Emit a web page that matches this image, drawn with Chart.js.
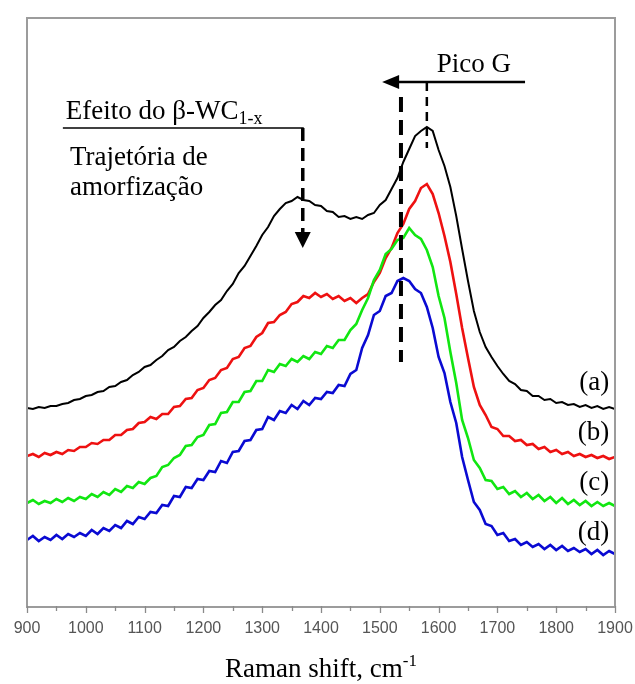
<!DOCTYPE html>
<html>
<head>
<meta charset="utf-8">
<script src="https://cdn.jsdelivr.net/npm/chart.js@4/dist/chart.umd.min.js"></script>
<style>
  html, body { margin: 0; padding: 0; background: #fff; }
  #wrap { width: 635px; height: 684px; position: relative; }
</style>
</head>
<body>
<div id="wrap"><canvas id="c" width="635" height="684"></canvas></div>
<script>
// Raman shift (cm-1), sampled every 10 cm-1
const ramanShift = [
  900, 910, 920, 930, 940, 950, 960, 970, 980, 990,
  1000, 1010, 1020, 1030, 1040, 1050, 1060, 1070, 1080, 1090,
  1100, 1110, 1120, 1130, 1140, 1150, 1160, 1170, 1180, 1190,
  1200, 1210, 1220, 1230, 1240, 1250, 1260, 1270, 1280, 1290,
  1300, 1310, 1320, 1330, 1340, 1350, 1360, 1370, 1380, 1390,
  1400, 1410, 1420, 1430, 1440, 1450, 1460, 1470, 1480, 1490,
  1500, 1510, 1520, 1530, 1540, 1550, 1560, 1570, 1580, 1590,
  1600, 1610, 1620, 1630, 1640, 1650, 1660, 1670, 1680, 1690,
  1700, 1710, 1720, 1730, 1740, 1750, 1760, 1770, 1780, 1790,
  1800, 1810, 1820, 1830, 1840, 1850, 1860, 1870, 1880, 1890,
  1900
];

// Intensities (a.u., curves offset vertically)
const spectrumA = [
  199, 198, 200, 199, 201, 201, 203, 204, 207, 208,
  211, 212, 215, 216, 220, 221, 225, 227, 232, 235,
  240, 242, 247, 251, 257, 260, 266, 270, 276, 281,
  289, 295, 302, 307, 316, 323, 334, 341, 351, 361,
  372, 380, 391, 398, 404, 406, 410, 407, 406, 402,
  401, 396, 395, 390, 391, 388, 390, 388, 392, 394,
  402, 407, 418, 429, 445, 458, 471, 476, 480, 476,
  457, 441, 420, 391, 358, 326, 296, 275, 260, 250,
  241, 233, 226, 223, 217, 216, 211, 211, 207, 208,
  204, 205, 202, 203, 200, 202, 199, 201, 198, 200,
  198
];
const spectrumB = [
  151, 153, 150, 154, 152, 155, 153, 157, 156, 160,
  160, 164, 163, 167, 167, 172, 172, 177, 178, 184,
  185, 190, 188, 193, 193, 200, 201, 208, 209, 217,
  219, 227, 229, 237, 239, 248, 250, 259, 261, 270,
  274, 284, 285, 292, 295, 303, 305, 311, 309, 314,
  310, 313, 308, 311, 306, 309, 304, 309, 313, 325,
  334, 349, 359, 374, 383, 398, 406, 419, 423, 413,
  394, 371, 345, 313, 279, 249, 220, 202, 192, 180,
  178, 171, 171, 166, 167, 162, 163, 158, 160, 155,
  157, 153, 155, 151, 153, 150, 152, 149, 151, 148,
  150
];
const spectrumC = [
  104, 107, 103, 106, 104, 108, 105, 109, 106, 110,
  108, 113, 110, 115, 112, 118, 115, 121, 119, 125,
  123, 129, 131, 140, 142, 149, 152, 161, 162, 170,
  172, 182, 183, 194, 195, 205, 205, 215, 216, 226,
  226, 237, 235, 243, 241, 248, 245, 251, 248, 255,
  253, 261, 259, 267, 267, 277, 283, 297, 309, 327,
  337, 353, 358, 367, 369, 379, 372, 368, 357, 340,
  311, 289, 255, 224, 187, 169, 147, 139, 127, 126,
  118, 120, 113, 116, 110, 114, 108, 112, 106, 110,
  104, 109, 103, 107, 102, 106, 101, 105, 101, 104,
  101
];
const spectrumD = [
  67, 71, 66, 70, 67, 72, 68, 73, 70, 74,
  71, 77, 73, 79, 76, 82, 79, 86, 83, 90,
  88, 95, 94, 102, 101, 111, 110, 120, 119, 128,
  127, 136, 135, 146, 144, 155, 156, 166, 167, 177,
  178, 190, 187, 196, 194, 202, 198, 206, 202, 209,
  208, 215, 214, 222, 221, 233, 237, 259, 272, 292,
  296, 311, 314, 326, 329, 326, 318, 314, 300, 279,
  250, 234, 205, 184, 150, 127, 105, 97, 83, 81,
  72, 74, 66, 68, 62, 65, 60, 63, 58, 62,
  57, 61, 56, 59, 55, 58, 53, 57, 52, 56,
  53
];

const seriesLabels = ['(a)', '(b)', '(c)', '(d)'];
const seriesColors = ['#000000', '#ee1111', '#11e611', '#0a0ad2'];
const xTicks = [900, 1000, 1100, 1200, 1300, 1400, 1500, 1600, 1700, 1800, 1900];

const SERIF = "'Liberation Serif','Times New Roman',serif";

function toPoints(values) {
  return values.map((v, i) => ({ x: ramanShift[i], y: v }));
}

// Frame, axis ticks, arrows and text annotations
const decorations = {
  id: 'decorations',
  afterDatasetsDraw(chart) {
    const { ctx, chartArea: a, scales } = chart;
    const X = v => scales.x.getPixelForValue(v);
    const Y = v => scales.y.getPixelForValue(v);
    ctx.save();

    // plot frame
    ctx.strokeStyle = '#9c9c9c';
    ctx.lineWidth = 2;
    ctx.setLineDash([]);
    ctx.strokeRect(a.left, a.top, a.right - a.left, a.bottom - a.top);

    // tick marks on the bottom axis
    ctx.strokeStyle = '#8a8a8a';
    ctx.lineWidth = 1.3;
    for (let v = 900; v <= 1900; v += 50) {
      const px = Math.round(X(v)) + 0.5;
      const len = (v % 100 === 0) ? 6 : 4;
      ctx.beginPath();
      ctx.moveTo(px, a.bottom - 1);
      ctx.lineTo(px, a.bottom + len);
      ctx.stroke();
    }

    ctx.strokeStyle = '#000';
    ctx.fillStyle = '#000';

    // G-peak shift arrow
    ctx.lineWidth = 2.5;
    ctx.beginPath();
    ctx.moveTo(X(1747), Y(525));
    ctx.lineTo(X(1504) + 12, Y(525));
    ctx.stroke();
    ctx.beginPath();
    ctx.moveTo(X(1504), Y(525));
    ctx.lineTo(X(1504) + 17, Y(525) - 7);
    ctx.lineTo(X(1504) + 17, Y(525) + 7);
    ctx.closePath();
    ctx.fill();

    // G-peak positions
    ctx.lineWidth = 2.5;
    ctx.setLineDash([9, 6]);
    ctx.beginPath();
    ctx.moveTo(X(1580), Y(525));
    ctx.lineTo(X(1580), Y(459));
    ctx.stroke();

    ctx.lineWidth = 4;
    ctx.setLineDash([15, 8]);
    ctx.beginPath();
    ctx.moveTo(X(1536), Y(510));
    ctx.lineTo(X(1536), Y(245));
    ctx.stroke();

    // beta-WC effect: underline and downward arrow
    ctx.setLineDash([]);
    ctx.lineWidth = 1.5;
    ctx.beginPath();
    ctx.moveTo(X(961), Y(479));
    ctx.lineTo(X(1369) + 1, Y(479));
    ctx.stroke();

    ctx.lineWidth = 3.5;
    ctx.setLineDash([13, 7]);
    ctx.beginPath();
    ctx.moveTo(X(1369), Y(479));
    ctx.lineTo(X(1369), Y(359) - 12);
    ctx.stroke();
    ctx.setLineDash([]);
    ctx.beginPath();
    ctx.moveTo(X(1369), Y(359));
    ctx.lineTo(X(1369) - 8, Y(359) - 16);
    ctx.lineTo(X(1369) + 8, Y(359) - 16);
    ctx.closePath();
    ctx.fill();

    // text annotations
    ctx.textAlign = 'left';
    ctx.textBaseline = 'alphabetic';
    ctx.font = `27px ${SERIF}`;
    ctx.fillText('Pico G', X(1597), Y(535));

    const main = 'Efeito do \u03B2-WC';
    ctx.fillText(main, X(966), Y(488));
    const w = ctx.measureText(main).width;
    ctx.font = `18px ${SERIF}`;
    ctx.fillText('1-x', X(966) + w, Y(488) + 5);

    ctx.font = `27px ${SERIF}`;
    ctx.fillText('Trajet\u00F3ria de', X(973), Y(442));
    ctx.fillText('amorfiza\u00E7\u00E3o', X(973), Y(412));

    // curve labels
    ctx.textAlign = 'right';
    ctx.textBaseline = 'middle';
    const labelY = [224, 174, 124, 74];
    seriesLabels.forEach((t, i) => ctx.fillText(t, X(1890), Y(labelY[i])));

    // axis title with superscript
    ctx.textBaseline = 'alphabetic';
    ctx.textAlign = 'left';
    ctx.font = `27px ${SERIF}`;
    const tMain = 'Raman shift, cm';
    const tw = ctx.measureText(tMain).width;
    ctx.font = `17px ${SERIF}`;
    const sw = ctx.measureText('-1').width;
    const cx = (a.left + a.right) / 2;
    const start = cx - (tw + sw) / 2;
    ctx.font = `27px ${SERIF}`;
    ctx.fillText(tMain, start, 677);
    ctx.font = `17px ${SERIF}`;
    ctx.fillText('-1', start + tw, 666);

    ctx.restore();
  }
};

const spectra = [spectrumA, spectrumB, spectrumC, spectrumD];

new Chart(document.getElementById('c'), {
  type: 'line',
  data: {
    datasets: spectra.map((s, i) => ({
      label: seriesLabels[i],
      data: toPoints(s),
      borderColor: seriesColors[i],
      borderWidth: i === 0 ? 2 : 2.6,
      pointRadius: 0,
      tension: 0,
      fill: false,
      order: 4 - i
    }))
  },
  options: {
    responsive: false,
    animation: false,
    layout: { autoPadding: false, padding: { left: 27, right: 20, top: 18, bottom: 0 } },
    plugins: { legend: { display: false }, tooltip: { enabled: false }, title: { display: false } },
    scales: {
      x: {
        type: 'linear',
        min: 900,
        max: 1900,
        afterBuildTicks: s => { s.ticks = xTicks.map(v => ({ value: v })); },
        afterFit: s => { s.height = 77; s.paddingLeft = 0; s.paddingRight = 0; },
        ticks: {
          color: '#555555',
          padding: 12,
          maxRotation: 0,
          autoSkip: false,
          font: { family: "'Liberation Sans', Arial, sans-serif", size: 16 },
          callback: v => String(v)
        },
        grid: { display: false, drawTicks: false },
        border: { display: false }
      },
      y: { display: false, min: 0, max: 589 }
    }
  },
  plugins: [decorations]
});
</script>
</body>
</html>
